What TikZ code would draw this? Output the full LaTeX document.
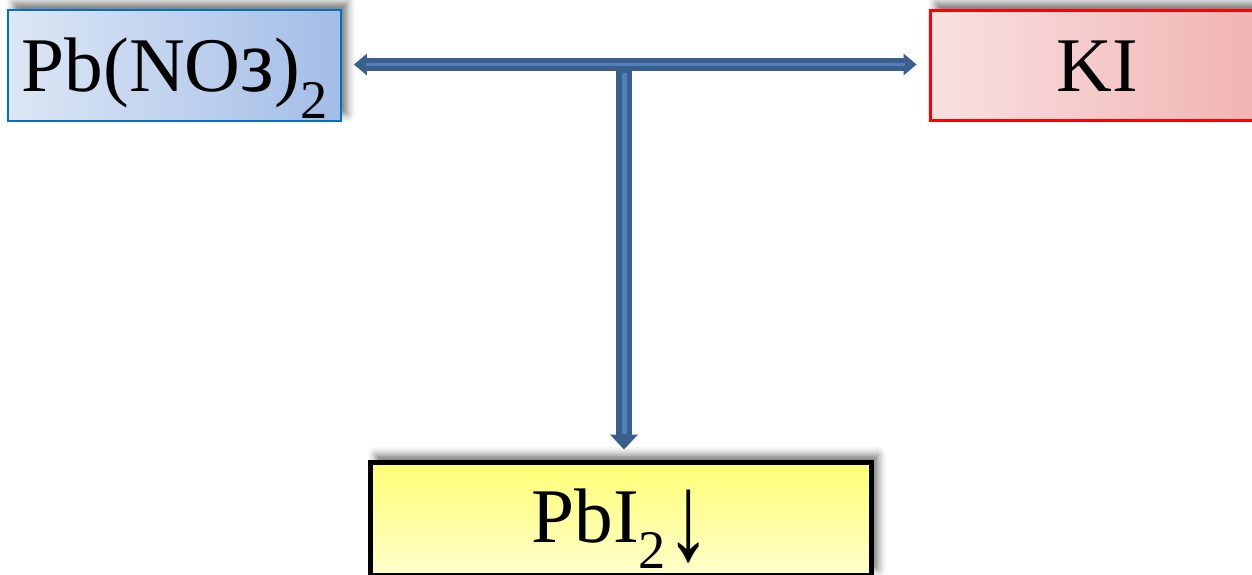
\documentclass[tikz,border=0pt]{standalone}
\usepackage{fontspec}
\setmainfont{Liberation Serif}
\usetikzlibrary{positioning, arrows.meta, shadows.blur}

\definecolor{pbline}{HTML}{0070C0}
\definecolor{pbleft}{HTML}{DDE7F5}
\definecolor{pbright}{HTML}{A3BDE7}
\definecolor{kileft}{HTML}{F9E1E1}
\definecolor{kiright}{HTML}{F0B3B2}
\definecolor{pbitop}{HTML}{FFFF74}
\definecolor{pbibottom}{HTML}{FFFFCC}
\definecolor{arrowdark}{HTML}{3B5F8C}
\definecolor{arrowlight}{HTML}{4F81BD}

\newcommand{\lowsub}[1]{\raisebox{-0.34em}{\fontsize{31}{31}\selectfont #1}}

\begin{document}
\begin{tikzpicture}[
            x=0.02cm, y=-0.02cm,
            box/.style={inner sep=0pt, font=\fontsize{44}{50}\selectfont,
              blur shadow={shadow xshift=0.12cm, shadow yshift=0.14cm, shadow blur radius=0.16cm, shadow opacity=55}},
            hout/.style={draw=arrowdark, line width=0.26cm, -{Triangle[length=0.26cm, width=0.44cm, line width=0pt]}, shorten >=0.24cm},
            hin/.style={draw=arrowlight, line width=0.06cm, shorten >=0.48cm},
            vout/.style={draw=arrowdark, line width=0.32cm, -{Triangle[length=0.3cm, width=0.56cm, line width=0pt]}, shorten >=0.2cm},
            vin/.style={draw=arrowlight, line width=0.1cm, shorten >=0.52cm, shorten <=0.17cm}
          ]
        \useasboundingbox (0,0) rectangle (1252,575);

        \node (pbno) [box, draw=pbline, line width=0.04cm, left color=pbleft, right color=pbright,
          minimum width=6.66cm, text height=1.64cm, text depth=0.58cm] at (174.5,65.5) {Pb(NO\scalebox{1.1}[1.17]{з})\lowsub{2}};
        \node (ki) [box, draw=red, line width=0.06cm, left color=kileft, right color=kiright,
          minimum width=6.68cm, text height=1.64cm, text depth=0.58cm] at (1097,65.5) {KI};
        \node (pbi) [box, draw=black, line width=0.1cm, top color=pbitop, bottom color=pbibottom,
          minimum width=10.04cm, text height=1.6cm, text depth=0.68cm] at (621,519) {PbI\lowsub{2}\raisebox{-0.23em}{\scalebox{1.15}[1.6]{↓}}};
        \coordinate (mix) at (624,64.5);

        \draw[vout] (mix) -- (mix |- pbi.north);
        \draw[hout] (mix) -- (mix -| pbno.east);
        \draw[hout] (mix) -- (mix -| ki.west);
        \draw[hin] (mix) -- (mix -| pbno.east);
        \draw[hin] (mix) -- (mix -| ki.west);
        \draw[vin] (mix) -- (mix |- pbi.north);

        \end{tikzpicture}
\end{document}
